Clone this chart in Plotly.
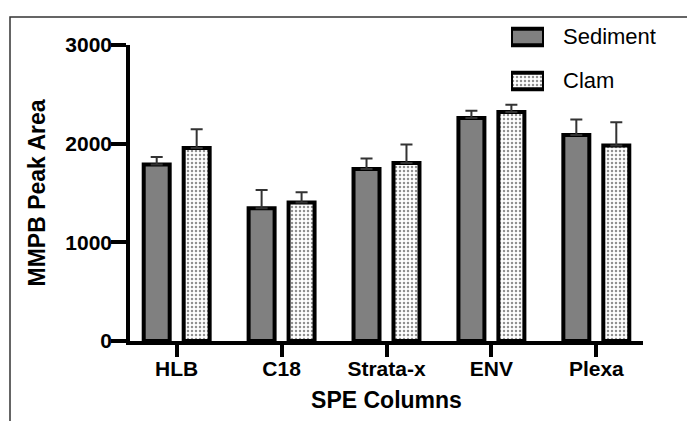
import plotly.graph_objects as go

categories = ["HLB", "C18", "Strata-x", "ENV", "Plexa"]
sediment = [1790, 1346, 1744, 2259, 2089]
sediment_err = [76, 185, 106, 74, 156]
clam = [1957, 1404, 1805, 2320, 1982]
clam_err = [190, 104, 187, 74, 236]
y_ticks = [0, 1000, 2000, 3000]
series_names = ["Sediment", "Clam"]

W, H = 687, 421
FONT = "Arial, Liberation Sans, sans-serif"
GRAY = "#808080"
px = lambda x: x / W
py = lambda y: 1 - y / H

sed_marker = dict(color=GRAY, line=dict(color="black", width=4))
clam_marker = dict(color="white", line=dict(color="black", width=4),
                   pattern=dict(shape=".", fgcolor="#222222", bgcolor="white", size=4, solidity=0.3))
err_style = dict(type="data", symmetric=False, color="#333333", thickness=2, width=6)

fig = go.Figure()
fig.add_trace(go.Bar(
    name=series_names[0], x=categories, y=sediment, marker=sed_marker,
    error_y=dict(array=sediment_err, arrayminus=[0] * len(sediment_err), **err_style),
))
fig.add_trace(go.Bar(
    name=series_names[1], x=categories, y=clam, marker=clam_marker,
    error_y=dict(array=clam_err, arrayminus=[0] * len(clam_err), **err_style),
))

# legend swatches drawn on a small inset axis
for i, (name, mk) in enumerate(zip(series_names, [sed_marker, clam_marker])):
    fig.add_trace(go.Bar(
        x=[1], y=[1 - i], orientation="h", width=0.38, marker=mk,
        xaxis="x2", yaxis="y2", showlegend=False, hoverinfo="skip",
    ))
    fig.add_annotation(
        text=name, xref="paper", yref="paper", x=px(561), y=py(37 + 44 * i),
        xanchor="left", yanchor="middle", showarrow=False,
        font=dict(size=22, family=FONT, color="black"),
    )

fig.update_layout(
    width=W, height=H,
    margin=dict(l=0, r=0, t=0, b=0, autoexpand=False),
    paper_bgcolor="white", plot_bgcolor="rgba(0,0,0,0)",
    barmode="group", bargap=0.238, bargroupgap=0.35,
    font=dict(family=FONT, color="black"),
    showlegend=False,
    xaxis=dict(
        domain=[px(130), px(643)],
        range=[-0.445, 4.445], showline=True, linecolor="black", linewidth=3.5,
        ticks="outside", ticklen=12, tickwidth=3.5, tickcolor="black",
        tickfont=dict(size=21, family=FONT), tickprefix="<b>", ticksuffix="</b>",
        ticklabelstandoff=-6,
        showgrid=False, zeroline=False, automargin=False,
        title=dict(text="<b>SPE Columns</b>", font=dict(size=23, family=FONT), standoff=14),
    ),
    yaxis=dict(
        domain=[py(341), py(45)],
        range=[0, 3000], tickvals=y_ticks, ticktext=[f"<b>{v}</b>" for v in y_ticks],
        showline=True, linecolor="black", linewidth=3.5,
        ticks="outside", ticklen=15, tickwidth=3.5, tickcolor="black",
        tickfont=dict(size=21, family=FONT), ticklabelstandoff=-5,
        showgrid=False, zeroline=False, automargin=False,
        title=dict(text="<b>MMPB Peak Area</b>", font=dict(size=23, family=FONT), standoff=14),
    ),
    xaxis2=dict(domain=[px(511), px(544)], range=[0, 1], visible=False, fixedrange=True),
    yaxis2=dict(domain=[py(103), py(15)], range=[-0.5, 1.5], visible=False, fixedrange=True),
    shapes=[dict(type="rect", xref="paper", yref="paper",
                 x0=px(10), x1=1.1, y0=-0.1, y1=py(17),
                 line=dict(color="#333333", width=1.5), layer="below")],
)

fig.write_html("out.html")
